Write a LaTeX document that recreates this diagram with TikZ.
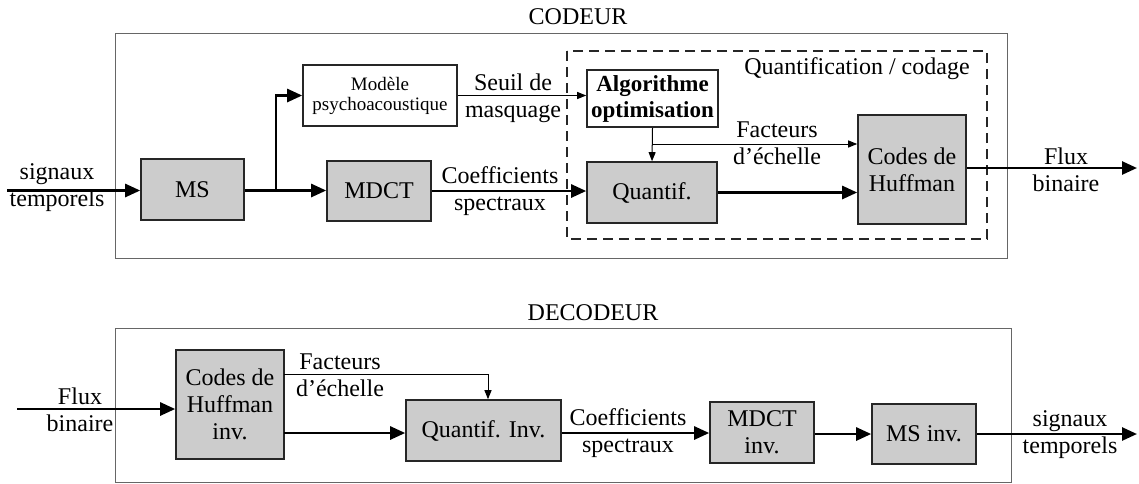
\documentclass[tikz,border=0pt]{standalone}
\usepackage{fontspec}
\setmainfont{Liberation Serif}
\usetikzlibrary{arrows.meta}
\begin{document}
\begin{tikzpicture}[x=0.5pt,y=-0.5pt,
  every node/.style={font=\fontsize{12}{13.5}\selectfont, inner sep=0pt, align=center},
  blockg/.style={draw=black!85, line width=0.8pt, fill=black!20},
  blockw/.style={draw=black!85, line width=0.8pt, fill=white},
  frame/.style={draw=black!60, line width=0.5pt},
  group/.style={draw=black!85, line width=0.8pt, dash pattern=on 5pt off 3pt},
  bigarrow/.style={line width=1.3pt, -{Triangle[length=7.5pt,width=6.5pt]}},
  smallarrow/.style={line width=0.5pt, -{Triangle[length=4.5pt,width=3.5pt]}},
  small/.style={font=\fontsize{9.5}{11}\selectfont},
  lbl/.style={font=\fontsize{12}{13.5}\selectfont}]
\useasboundingbox (0,0) rectangle (1139,483);

% ---------------- coder ----------------
\node (ctitle) at (578,17) {CODEUR};
\draw[frame] (115,33) rectangle (1007,258);
\draw[group] (567,51) rectangle (987,239);
\node (qctitle) at (857,69) {Quantification / codage};

\node[blockg, minimum width=51.5pt, minimum height=30.5pt] (ms) at (192.5,189.5) {MS};
\node[blockg, minimum width=52pt, minimum height=30pt] (mdct) at (379,191) {MDCT};
\node[blockw, small, minimum width=77pt, minimum height=30.5pt] (psy) at (380,95.5) {Mod\`ele\\[-1pt]psychoacoustique};
\node[blockw, font=\fontsize{11.5}{13}\selectfont\bfseries, minimum width=65.5pt, minimum height=28.5pt] (algo) at (652.5,98.5) {Algorithme\\optimisation};
\node[blockg, minimum width=65pt, minimum height=30.5pt] (quant) at (652,192.5) {Quantif.};
\node[blockg, minimum width=54pt, minimum height=54.5pt] (huff) at (912,169.5) {Codes de\\Huffman};

\coordinate (cin) at (7,190.5);
\coordinate (split) at (276,190.5);
\coordinate (fsplit) at (652.5,144);
\coordinate (cout) at (1137,168);

\draw[bigarrow] (cin) -- (cin -| ms.west);
\draw[bigarrow] (ms.east |- cin) -- (mdct.west |- cin);
\draw[bigarrow] (split) |- (psy.west);
\draw[smallarrow] (psy.east) -- (psy.east -| algo.west);
\draw[bigarrow] (mdct.east) -- (mdct.east -| quant.west);
\draw[smallarrow] (algo.south) -- (quant.north);
\draw[smallarrow] (fsplit) -- (fsplit -| huff.west);
\draw[bigarrow] (quant.east) -- (quant.east -| huff.west);
\draw[bigarrow] (huff.east |- cout) -- (cout);

\node[lbl] (l1) at (57,188) {signaux\\temporels};
\node[lbl] (l2) at (513,98) {Seuil de\\masquage};
\node[lbl] (l3) at (500,191) {Coefficients\\spectraux};
\node[lbl] (l4) at (777,143) {Facteurs\\d'\'echelle};
\node[lbl] (l5) at (1066,170) {Flux\\binaire};

% ---------------- decoder ----------------
\node (dtitle) at (593,313) {DECODEUR};
\draw[frame] (115,328) rectangle (1011,482);

\node[blockg, minimum width=54pt, minimum height=54.5pt] (huffi) at (230,404.5) {Codes de\\Huffman\\inv.};
\node[blockg, minimum width=77.5pt, minimum height=30.5pt] (quanti) at (483.5,430.5) {Quantif. Inv.};
\node[blockg, minimum width=52pt, minimum height=30.5pt] (mdcti) at (762,432.5) {MDCT\\inv.};
\node[blockg, minimum width=52pt, minimum height=30pt] (msi) at (924,434) {MS inv.};

\coordinate (din) at (17,409);
\coordinate (f1) at (284,374);
\coordinate (f2) at (488,374);
\coordinate (h1) at (284,433);
\coordinate (dout) at (1137,434);

\draw[bigarrow] (din) -- (din -| huffi.west);
\draw[smallarrow] (f1) -- (f2) -- (f2 |- quanti.north);
\draw[bigarrow] (h1) -- (h1 -| quanti.west);
\draw[bigarrow] (quanti.east |- h1) -- (mdcti.west |- h1);
\draw[bigarrow] (mdcti.east |- msi.east) -- (msi.west);
\draw[bigarrow] (msi.east) -- (dout);

\node[lbl] (m1) at (80,410) {Flux\\binaire};
\node[lbl] (m2) at (340,375) {Facteurs\\d'\'echelle};
\node[lbl] (m3) at (628,433) {Coefficients\\spectraux};
\node[lbl] (m4) at (1070,435) {signaux\\temporels};
\end{tikzpicture}
\end{document}
